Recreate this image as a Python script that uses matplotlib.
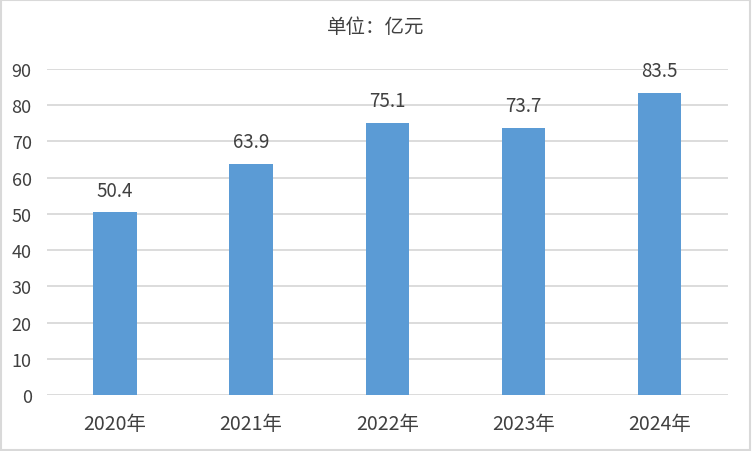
import matplotlib.pyplot as plt
import matplotlib.patches as patches

plt.rcParams['font.family'] = ['Noto Sans CJK SC', 'DejaVu Sans']

# data
years = ['2020年', '2021年', '2022年', '2023年', '2024年']
values = [50.4, 63.9, 75.1, 73.7, 83.5]
yticks = [0, 10, 20, 30, 40, 50, 60, 70, 80, 90]

text_col = '#404040'
bar_col = '#5B9BD5'

fig = plt.figure(figsize=(7.52, 4.52), dpi=100)
ax = fig.add_axes([0.0625, 0.124, 0.905, 0.721])

x = range(len(years))
ax.bar(x, values, width=0.32, color=bar_col, zorder=3)
for i, v in zip(x, values):
    ax.text(i, v + 3.3, f'{v:.1f}', ha='center', va='bottom',
            fontsize=13.5, color=text_col)

ax.set_xlim(-0.5, len(years) - 0.5)
ax.set_ylim(0, 90)
ax.set_yticks(yticks)
ax.set_xticks(list(x))
ax.set_xticklabels(years, fontsize=14, color=text_col)
ax.tick_params(axis='y', labelsize=13, colors=text_col, length=0, pad=11)
ax.tick_params(axis='x', length=0, pad=13)
ax.grid(axis='y', color='#D9D9D9', linewidth=1.3, zorder=0)
for s in ax.spines.values():
    s.set_visible(False)

fig.text(0.5, 0.94, '单位：亿元', ha='center', va='center',
         fontsize=14, color=text_col)

# light outer border
fig.patches.append(patches.Rectangle((0.001, 0.002), 0.997, 0.995,
                                     transform=fig.transFigure, fill=False,
                                     edgecolor='#D9D9D9', linewidth=1.5))

fig.savefig('out.png', dpi=100)
